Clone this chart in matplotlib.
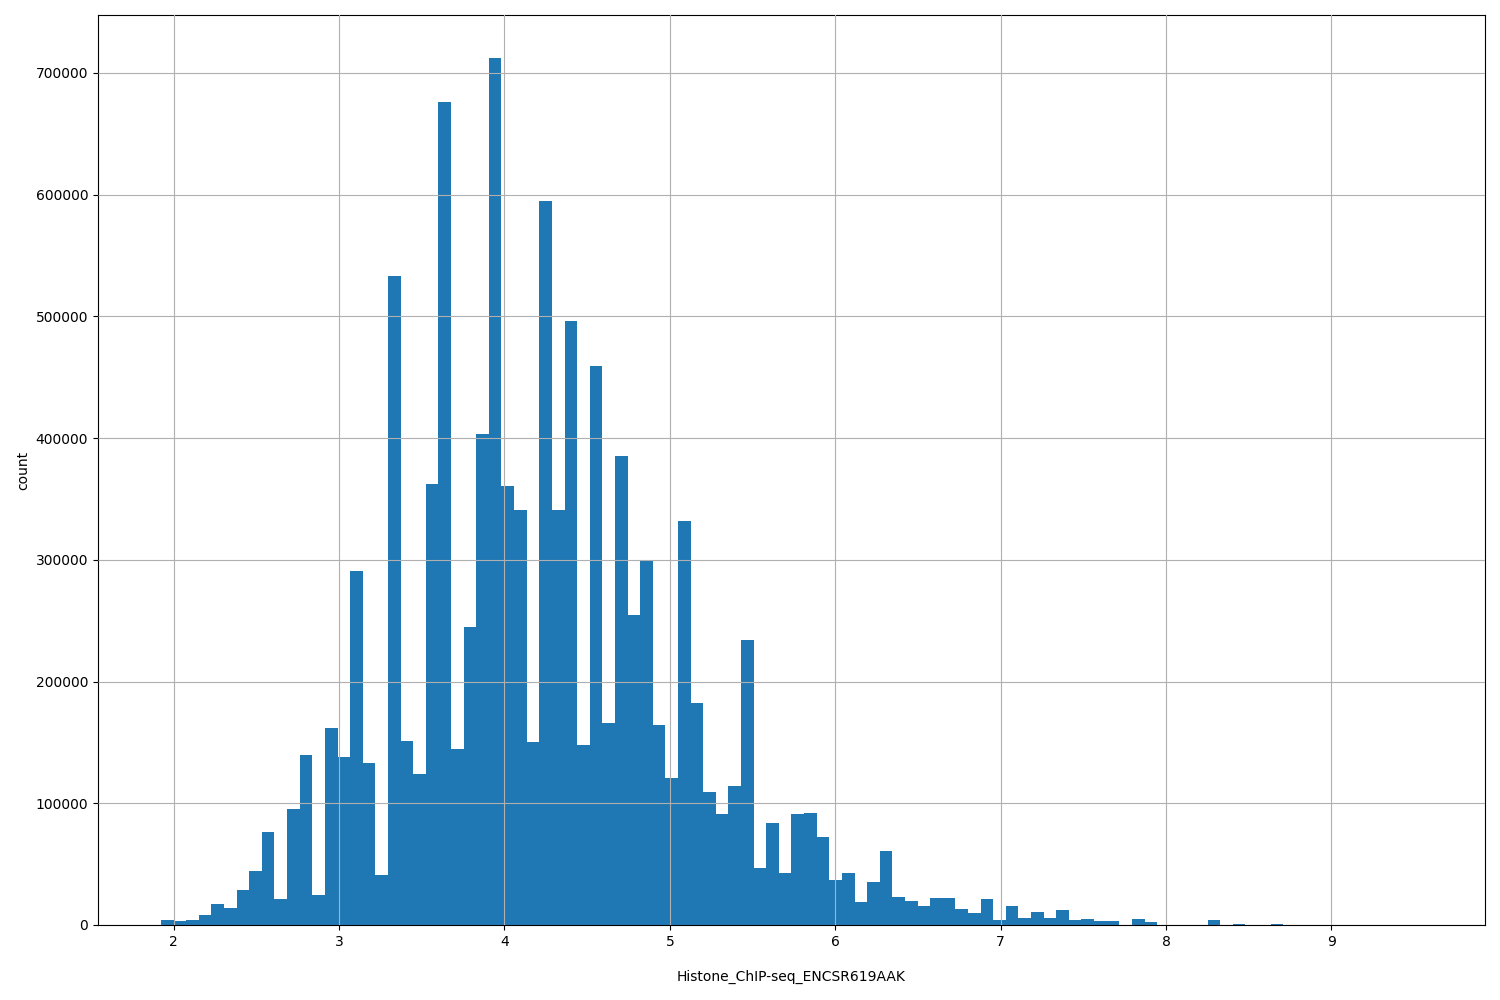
import numpy as np
import matplotlib
matplotlib.use("Agg")
import matplotlib.pyplot as plt

x_min = 1.923
x_max = 9.548
n_bins = 100
counts = [4000, 3000, 4000, 8000, 17000, 14000, 29000, 44000, 76000, 21000,
          95000, 140000, 25000, 162000, 138000, 291000, 133000, 41000, 533000, 151000,
          124000, 362000, 676000, 145000, 245000, 403000, 712000, 361000, 341000, 150000,
          595000, 341000, 496000, 148000, 459000, 166000, 385000, 255000, 300000, 164000,
          121000, 332000, 182000, 109000, 91000, 114000, 234000, 47000, 84000, 43000,
          91000, 92000, 72000, 37000, 43000, 19000, 35000, 61000, 23000, 20000,
          16000, 22000, 22000, 13000, 10000, 21000, 4000, 16000, 6000, 11000,
          6000, 12000, 4000, 5000, 3000, 3000, 0, 5000, 2500, 0,
          0, 0, 0, 4000, 0, 1000, 0, 0, 1000, 0,
          0, 0, 0, 0, 0, 0, 0, 0, 0, 200]

edges = np.linspace(x_min, x_max, n_bins + 1)
centers = (edges[:-1] + edges[1:]) / 2

fig = plt.figure(figsize=(15, 10), dpi=100)
ax = fig.add_axes([0.0653, 0.075, 0.9247, 0.91])
ax.hist(centers, bins=edges, weights=counts, color="#1f77b4")
ax.grid(True)
ax.set_axisbelow(False)
ax.set_xlabel("Histone_ChIP-seq_ENCSR619AAK", labelpad=15)
ax.set_ylabel("count")
fig.savefig("out.png")
